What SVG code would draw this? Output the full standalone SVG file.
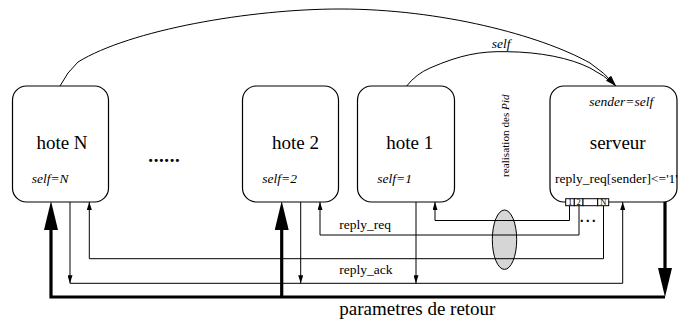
<svg xmlns="http://www.w3.org/2000/svg" width="678" height="321" viewBox="0 0 678 321">
<style>
.box{fill:#fff;stroke:#000;stroke-width:1.2}
.t{font-family:"Liberation Serif","Times New Roman",serif;fill:#000}
.big{font-size:19px}
.it{font-size:13.5px;font-style:italic}
.lab{font-size:13.5px}
.ln{fill:none;stroke:#000;stroke-width:1}
.thick{fill:none;stroke:#000;stroke-width:3.2}
.cell{fill:#fff;stroke:#000;stroke-width:1}
</style>
<defs>
<marker id="a" markerUnits="userSpaceOnUse" markerWidth="8" markerHeight="5" refX="8" refY="2.5" orient="auto"><path d="M0,0 L8,2.5 L0,5 z" fill="#000"/></marker>
<marker id="c" markerUnits="userSpaceOnUse" markerWidth="11" markerHeight="6" refX="11" refY="3" orient="auto"><path d="M0,0 L11,3 L0,6 z" fill="#000"/></marker>
<marker id="T" markerUnits="userSpaceOnUse" markerWidth="29" markerHeight="14" refX="4" refY="7" orient="auto"><path d="M0,0 L29,7 L0,14 z" fill="#000"/></marker>
</defs>
<rect width="678" height="321" fill="#fff"/>

<g id="pid">
<ellipse cx="504.5" cy="239.7" rx="12.2" ry="29.7" fill="#d6d6d6" stroke="#000" stroke-width="1"/>
</g>

<g id="connectors">
<path class="ln" d="M60,86 Q67,72 78,62 C130,30 250,9 340,9 C440,9 540,35 590,63 Q604,72 616,86" marker-end="url(#c)"/>
<path class="ln" d="M406.7,86 Q416,74 430,68 C460,55 480,51 507,51.7 C540,52 570,58 590,68 Q604,75 616,86" marker-end="url(#c)"/>
<path class="ln" d="M616,86 L626,165" stroke-dasharray="5,4" marker-end="url(#a)"/>
<path class="ln" d="M569.5,205.5 V220.5 H435 V202" marker-end="url(#a)"/>
<path class="ln" d="M579,205.5 V235 H320 V202" marker-end="url(#a)"/>
<path class="ln" d="M603.5,205.5 V258.7 H89.3 V202" marker-end="url(#a)"/>
<path class="ln" d="M70,283.3 H622.7 V202" marker-end="url(#a)"/>
<path class="ln" d="M70,202 V283.3" marker-end="url(#a)"/>
<path class="ln" d="M300.7,202 V283.3" marker-end="url(#a)"/>
<path class="ln" d="M416,202 V283.3" marker-end="url(#a)"/>
<path class="thick" d="M665,202 V272" marker-end="url(#T)"/>
<path class="thick" d="M665,297 H51 V226" marker-end="url(#T)"/>
<path class="thick" d="M281.7,297 V226" marker-end="url(#T)"/>
</g>

<g id="hoteN">
<rect class="box" x="12.5" y="86" width="96" height="116" rx="14"/>
<text class="t big" x="62" y="149" text-anchor="middle">hote N</text>
<text class="t it" x="31.7" y="183">self=N</text>
</g>
<g id="dots"><text class="t big" font-weight="bold" x="148.3" y="162" letter-spacing="0.6">......</text></g>
<g id="hote2">
<rect class="box" x="242.5" y="86" width="96" height="116" rx="14"/>
<text class="t big" x="295.5" y="149" text-anchor="middle">hote 2</text>
<text class="t it" x="262.3" y="183">self=2</text>
</g>
<g id="hote1">
<rect class="box" x="357.5" y="86" width="97" height="116" rx="14"/>
<text class="t big" x="409.8" y="149" text-anchor="middle">hote 1</text>
<text class="t it" x="377.3" y="183">self=1</text>
</g>
<g id="serveur">
<rect class="box" x="550" y="86" width="127" height="116" rx="14"/>
<text class="t big" x="617.7" y="149" text-anchor="middle">serveur</text>
<text class="t it" x="589.3" y="106">sender=self</text>
<text class="t lab" x="555" y="183">reply_req[sender]&lt;='1'</text>
</g>
<g id="register">
<rect class="cell" x="565.7" y="198.7" width="8.6" height="7"/>
<rect class="cell" x="574.3" y="198.7" width="8.7" height="7"/>
<rect class="cell" x="583" y="198.7" width="14.7" height="7"/>
<rect class="cell" x="597.7" y="198.7" width="11" height="7"/>
<text class="t" font-size="8.5" x="570" y="205" text-anchor="middle">1</text>
<text class="t" font-size="8.5" x="578.7" y="205" text-anchor="middle">2</text>
<text class="t" font-size="8.5" x="603.2" y="205" text-anchor="middle">N</text>
<text class="t" font-size="14" font-weight="bold" x="580" y="222" letter-spacing="2.5">...</text>
</g>
<g id="labels">
<text class="t it" x="491.7" y="48">self</text>
<text class="t lab" x="339.3" y="229">reply_req</text>
<text class="t lab" x="339.3" y="274">reply_ack</text>
<text class="t big" x="339.3" y="315">parametres de retour</text>
<text class="t" font-size="11.2" transform="translate(509,177) rotate(-90)">realisation des <tspan font-style="italic">Pid</tspan></text>
</g>
</svg>
